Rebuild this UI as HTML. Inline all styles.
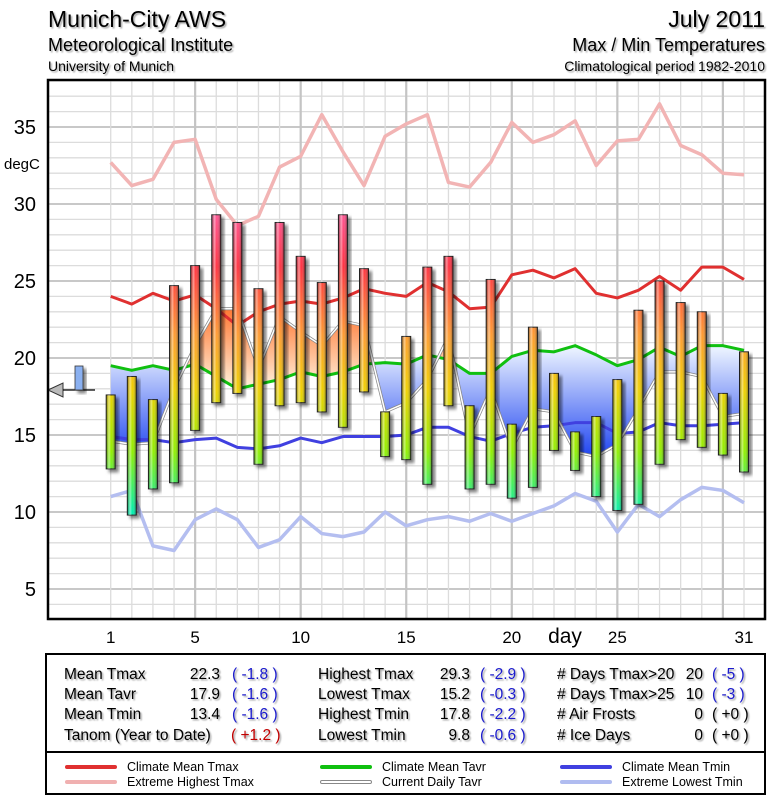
<!DOCTYPE html>
<html><head><meta charset="utf-8"><style>
body{margin:0;background:#fff;width:775px;height:800px;overflow:hidden;font-family:"Liberation Sans",Arial,sans-serif}
svg text{font-family:"Liberation Sans",Arial,sans-serif}
</style></head><body>
<svg id="chart" width="775" height="800" viewBox="0 0 775 800" xmlns="http://www.w3.org/2000/svg">
<defs>
<linearGradient id="barGrad" gradientUnits="userSpaceOnUse" x1="0" y1="205" x2="0" y2="513">
<stop offset="0" stop-color="#ff5aa0"/><stop offset="0.2" stop-color="#ff3040"/><stop offset="0.42" stop-color="#ff9a30"/><stop offset="0.6" stop-color="#f0d000"/><stop offset="0.8" stop-color="#90f000"/><stop offset="1" stop-color="#00f0b0"/>
</linearGradient>
<linearGradient id="shade" x1="0" y1="0" x2="1" y2="0">
<stop offset="0" stop-color="#000" stop-opacity="0.35"/><stop offset="0.3" stop-color="#fff" stop-opacity="0.45"/><stop offset="0.55" stop-color="#fff" stop-opacity="0"/><stop offset="1" stop-color="#000" stop-opacity="0.45"/>
</linearGradient>
<linearGradient id="warmGrad" gradientUnits="userSpaceOnUse" x1="0" y1="300" x2="0" y2="390">
<stop offset="0" stop-color="#ff6a20"/><stop offset="1" stop-color="#fff4e0"/>
</linearGradient>
<linearGradient id="coolGrad" gradientUnits="userSpaceOnUse" x1="0" y1="350" x2="0" y2="460">
<stop offset="0" stop-color="#e8f0ff"/><stop offset="1" stop-color="#1a40f0"/>
</linearGradient>
<clipPath id="aboveClip"><path id="aboveP"/></clipPath>
<clipPath id="belowClip"><path id="belowP"/></clipPath>
<filter id="sh" x="-50%" y="-10%" width="200%" height="130%"><feDropShadow dx="3" dy="3" stdDeviation="1.5" flood-color="#000" flood-opacity="0.5"/></filter>
<filter id="tsh"><feDropShadow dx="1.5" dy="1.5" stdDeviation="0.8" flood-color="#000" flood-opacity="0.35"/></filter>
</defs>
<g filter="url(#tsh)">
<text x="48" y="27" font-size="23">Munich-City AWS</text>
<text x="48" y="51" font-size="18">Meteorological Institute</text>
<text x="48" y="71" font-size="14">University of Munich</text>
<text x="765" y="27" font-size="23" text-anchor="end">July 2011</text>
<text x="765" y="51" font-size="18" text-anchor="end">Max / Min Temperatures</text>
<text x="765" y="71" font-size="14" text-anchor="end">Climatological period 1982-2010</text>
</g>
<g id="grid"></g>
<g id="fills"></g>
<g id="lines"></g>
<g id="bars"></g>
<g id="axes"></g>
<g>
<polygon points="48,390 63,383 63,397" fill="#bbb" stroke="#333" stroke-width="1"/>
<line x1="63" y1="390" x2="95" y2="390" stroke="#000" stroke-width="1.2"/>
<rect x="75" y="366" width="8" height="24" fill="#8ab0f0" stroke="#333" stroke-width="0.8" filter="url(#sh)"/>
</g>
<rect x="48" y="80" width="717" height="539" fill="none" stroke="#000" stroke-width="2.5"/>
<g>
<rect x="46" y="654" width="719" height="140" fill="#fff" stroke="#000" stroke-width="2"/>
<line x1="46" y1="752" x2="765" y2="752" stroke="#000" stroke-width="2"/>
<g font-size="15.5" fill="#000" filter="url(#tsh)">
<text x="64" y="679">Mean Tmax</text><text x="220" y="679" text-anchor="end">22.3</text><text x="232" y="679" fill="#1a1acc">( -1.8 )</text>
<text x="64" y="699">Mean Tavr</text><text x="220" y="699" text-anchor="end">17.9</text><text x="232" y="699" fill="#1a1acc">( -1.6 )</text>
<text x="64" y="719">Mean Tmin</text><text x="220" y="719" text-anchor="end">13.4</text><text x="232" y="719" fill="#1a1acc">( -1.6 )</text>
<text x="64" y="740">Tanom (Year to Date)</text><text x="231" y="740" fill="#c00000">( +1.2 )</text>
<text x="318" y="679">Highest Tmax</text><text x="470" y="679" text-anchor="end">29.3</text><text x="480" y="679" fill="#1a1acc">( -2.9 )</text>
<text x="318" y="699">Lowest Tmax</text><text x="470" y="699" text-anchor="end">15.2</text><text x="480" y="699" fill="#1a1acc">( -0.3 )</text>
<text x="318" y="719">Highest Tmin</text><text x="470" y="719" text-anchor="end">17.8</text><text x="480" y="719" fill="#1a1acc">( -2.2 )</text>
<text x="318" y="740">Lowest Tmin</text><text x="470" y="740" text-anchor="end">9.8</text><text x="480" y="740" fill="#1a1acc">( -0.6 )</text>
<text x="557" y="679"># Days Tmax&gt;20</text><text x="703" y="679" text-anchor="end">20</text><text x="712" y="679" fill="#1a1acc">( -5 )</text>
<text x="557" y="699"># Days Tmax&gt;25</text><text x="703" y="699" text-anchor="end">10</text><text x="712" y="699" fill="#1a1acc">( -3 )</text>
<text x="557" y="719"># Air Frosts</text><text x="703" y="719" text-anchor="end">0</text><text x="712" y="719">( +0 )</text>
<text x="557" y="740"># Ice Days</text><text x="703" y="740" text-anchor="end">0</text><text x="712" y="740">( +0 )</text>
</g>
<g font-size="12.5" stroke-linecap="round">
<line x1="67" y1="767" x2="115" y2="767" stroke="#e03030" stroke-width="4"/><text x="127" y="771">Climate Mean Tmax</text>
<line x1="67" y1="782" x2="115" y2="782" stroke="#f0b0b0" stroke-width="4"/><text x="127" y="786">Extreme Highest Tmax</text>
<line x1="322" y1="767" x2="370" y2="767" stroke="#10c010" stroke-width="4"/><text x="382" y="771">Climate Mean Tavr</text>
<line x1="322" y1="782" x2="370" y2="782" stroke="#888" stroke-width="4"/><line x1="322" y1="782" x2="370" y2="782" stroke="#fff" stroke-width="2"/><text x="382" y="786">Current Daily Tavr</text>
<line x1="562" y1="767" x2="610" y2="767" stroke="#4040e0" stroke-width="4"/><text x="622" y="771">Climate Mean Tmin</text>
<line x1="562" y1="782" x2="610" y2="782" stroke="#b0bcf0" stroke-width="4"/><text x="622" y="786">Extreme Lowest Tmin</text>
</g>
</g>
</svg>
<script>
const days = Array.from({length:31},(_,i)=>i+1);
const tmax = [17.6,18.8,17.3,24.7,26.0,29.3,28.8,24.5,28.8,26.6,24.9,29.3,25.8,16.5,21.4,25.9,26.6,16.9,25.1,15.7,22.0,19.0,15.2,16.2,18.6,23.1,25.0,23.6,23.0,17.7,20.4];
const tmin = [12.8,9.8,11.5,11.9,15.3,17.1,17.7,13.1,16.9,17.1,16.5,15.5,17.8,13.6,13.4,11.8,16.9,11.5,11.8,10.9,11.6,14.0,12.7,11.0,10.1,10.5,13.1,14.7,14.2,13.7,12.6];
const tavr = [14.6,14.4,14.5,18.0,20.8,23.2,23.2,19.3,22.7,21.7,20.8,22.4,22.1,16.5,17.1,18.6,21.4,14.9,18.0,14.1,16.7,16.5,13.9,13.6,14.4,16.7,19.1,19.1,18.8,16.2,16.4];
const climTmax = [24.0,23.5,24.2,23.7,24.1,23.2,22.1,23.0,23.5,23.7,23.5,23.9,24.5,24.2,24.0,24.9,24.3,23.2,23.3,25.4,25.7,25.2,25.8,24.2,23.9,24.4,25.3,24.4,25.9,25.9,25.1];
const climTavr = [19.5,19.2,19.5,19.2,19.6,18.8,18.0,18.3,18.6,19.1,18.8,19.1,19.6,19.7,19.6,20.2,19.9,19.0,19.0,20.1,20.5,20.4,20.8,20.2,19.5,19.9,20.7,20.1,20.8,20.8,20.5];
const climTmin = [14.9,14.7,14.7,14.5,14.7,14.8,14.2,14.1,14.3,14.8,14.5,14.9,14.9,14.9,15.0,15.5,15.5,14.9,14.6,15.1,15.5,15.6,15.8,15.8,15.1,15.2,15.8,15.6,15.6,15.7,15.8];
const extHigh = [32.7,31.2,31.6,34.0,34.2,30.3,28.6,29.2,32.4,33.1,35.8,33.4,31.2,34.4,35.2,35.8,31.4,31.1,32.7,35.3,34.0,34.5,35.4,32.5,34.1,34.2,36.5,33.8,33.2,32.0,31.9];
const extLow = [11.0,11.4,7.8,7.5,9.5,10.2,9.5,7.7,8.2,9.7,8.6,8.4,8.7,10.0,9.1,9.5,9.7,9.4,9.9,9.4,9.9,10.4,11.2,10.7,8.7,10.5,9.7,10.8,11.6,11.4,10.6];
const yTicks = [5,10,15,20,25,30,35];
const xTicks = [1,5,10,15,20,25,31];

const NS='http://www.w3.org/2000/svg';
const X=d=>110.7+(d-1)*21.11;
const Y=v=>512-(v-10)*15.4;
function mk(tag,attrs,parent){const e=document.createElementNS(NS,tag);for(const k in attrs)e.setAttribute(k,attrs[k]);parent.appendChild(e);return e;}
const grid=document.getElementById('grid');
mk('rect',{x:48,y:80,width:717,height:539,fill:'#fff'},grid);
for(let v=3;v<=38;v++){const maj=v%5===0;const l=mk('line',{x1:48,x2:765,y1:Y(v),y2:Y(v),stroke:maj?'#c8c8c8':'#dcdcdc','stroke-width':maj?2:1.3},grid);

}
for(let d=1;d<=31;d++){const maj=d%5===0;const l=mk('line',{x1:X(d),x2:X(d),y1:80,y2:619,stroke:maj?'#c4c4c4':'#dcdcdc','stroke-width':maj?2.2:1.3},grid);

}
// fills
const fills=document.getElementById('fills');
const greenPts=days.map((d,i)=>X(d)+','+Y(climTavr[i]));
const tavrPts=days.map((d,i)=>X(d)+','+Y(tavr[i]));
document.getElementById('aboveP').setAttribute('d','M'+X(1)+',80 L'+greenPts.join(' L')+' L'+X(31)+',80 Z');
document.getElementById('belowP').setAttribute('d','M'+X(1)+',619 L'+greenPts.join(' L')+' L'+X(31)+',619 Z');
const area='M'+greenPts.join(' L')+' L'+tavrPts.slice().reverse().join(' L')+' Z';
const fa=mk('path',{d:area,fill:'url(#warmGrad)','clip-path':'url(#aboveClip)'},fills);


const fb=mk('path',{d:area,fill:'url(#coolGrad)','clip-path':'url(#belowClip)'},fills);


// lines
const lines=document.getElementById('lines');
function line(arr,color,w,name){const p=mk('polyline',{points:days.map((d,i)=>X(d)+','+Y(arr[i])).join(' '),fill:'none',stroke:color,'stroke-width':w,'stroke-linejoin':'round'},lines);

return p;}
line(extHigh,'#f2b4b4',3.5,'extreme-highest-tmax-line');
line(extLow,'#b4bef0',3.5,'extreme-lowest-tmin-line');
line(climTmax,'#e03030',3,'climate-mean-tmax-line');
line(climTavr,'#10c010',3,'climate-mean-tavr-line');
line(climTmin,'#4040e0',3,'climate-mean-tmin-line');
line(tavr,'#888',3,'current-daily-tavr-outline');
line(tavr,'#fff',1.5,'current-daily-tavr-line');
// bars
const bars=document.getElementById('bars');
days.forEach((d,i)=>{const g=mk('g',{filter:'url(#sh)'},bars);


const x=X(d)-4.5,y=Y(tmax[i]),h=Y(tmin[i])-Y(tmax[i]);
mk('rect',{x:x,y:y,width:9,height:h,fill:'url(#barGrad)',stroke:'#222','stroke-width':1},g);
mk('rect',{x:x,y:y,width:9,height:h,fill:'url(#shade)'},g);});
// axes labels
const axes=document.getElementById('axes');
yTicks.forEach(v=>{const t=mk('text',{x:36,y:Y(v)+7,'font-size':20,'text-anchor':'end'},axes);t.textContent=v;

});
const dc=mk('text',{x:4,y:169,'font-size':15},axes);dc.textContent='degC';


xTicks.forEach(d=>{const t=mk('text',{x:X(d),y:643,'font-size':17,'text-anchor':'middle'},axes);t.textContent=d;

});
const dl=mk('text',{x:565,y:643,'font-size':21,'text-anchor':'middle'},axes);dl.textContent='day';


</script>
</body></html>
